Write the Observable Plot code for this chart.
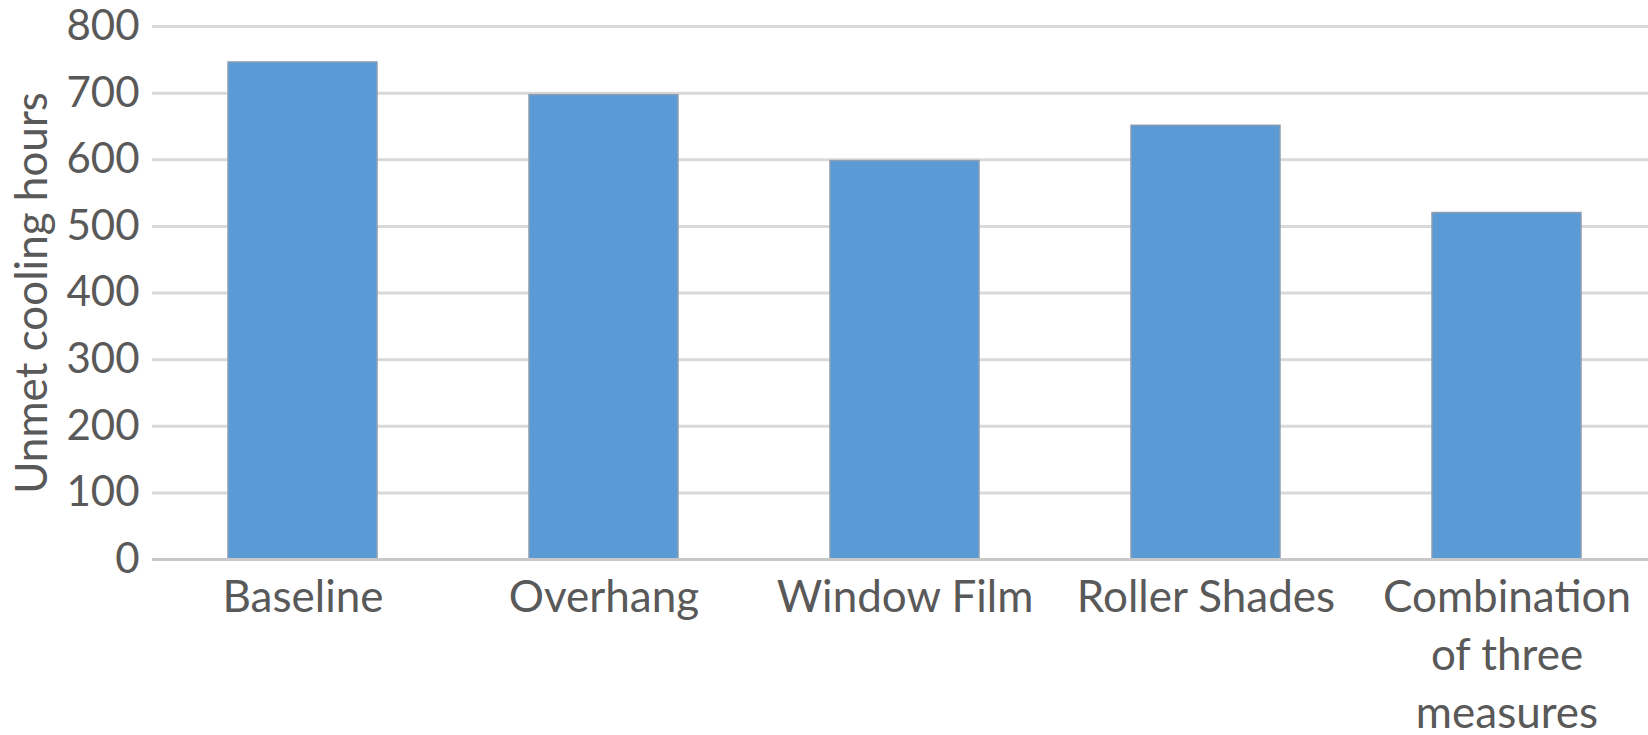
<!DOCTYPE html>
<html><head><meta charset="utf-8">
<script src="https://cdn.jsdelivr.net/npm/d3@7"></script>
<script src="https://cdn.jsdelivr.net/npm/@observablehq/plot@0.6"></script>
<style>body{margin:0;background:#fff;overflow:hidden}</style>
</head><body><div id="chart"></div>
<script>
const categories = ["Baseline", "Overhang", "Window Film", "Roller Shades", "Combination of three measures"];
const tickLabels = ["Baseline", "Overhang", "Window Film", "Roller Shades", "Combination\nof three\nmeasures"];
const values = [746, 697, 598, 651, 520];
const yTicks = [0, 100, 200, 300, 400, 500, 600, 700, 800];
const yLabel = "Unmet cooling hours";

const data = categories.map((c, i) => ({category: c, value: values[i]}));
const labelOf = new Map(categories.map((c, i) => [c, tickLabels[i]]));

const chart = Plot.plot({
  width: 1648, height: 735,
  marginTop: 26, marginBottom: 176, marginLeft: 152, marginRight: -9,
  style: {fontFamily: "Lato, 'Open Sans', sans-serif", fontSize: "40px", color: "#595959", background: "#fff"},
  x: {domain: categories, paddingInner: 0.505, paddingOuter: 0.2525, label: null},
  y: {domain: [0, 800], label: null},
  marks: [
    Plot.ruleY(yTicks.filter(t => t > 0), {stroke: "#d9d9d9", strokeWidth: 3}),
    Plot.barY(data, {x: "category", y: "value", fill: "#5b9bd5", stroke: "#8a9db3", strokeWidth: 1.5}),
    Plot.ruleY([0], {stroke: "#c8c8c8", strokeWidth: 3}),
    Plot.axisY({ticks: yTicks, tickSize: 0, tickPadding: 13, fontSize: 42, label: null, fill: "#595959"}),
    Plot.axisX({tickSize: 0, tickPadding: 11, fontSize: 44, lineHeight: 1.32, label: null, fill: "#595959",
      tickFormat: d => labelOf.get(d)}),
    Plot.text([yLabel], {text: d => d, frameAnchor: "left", textAnchor: "middle", lineAnchor: "middle",
      rotate: -90, dx: -120, fontSize: 44, fill: "#595959"})
  ]
});
document.getElementById("chart").append(chart);
</script>
</body></html>
